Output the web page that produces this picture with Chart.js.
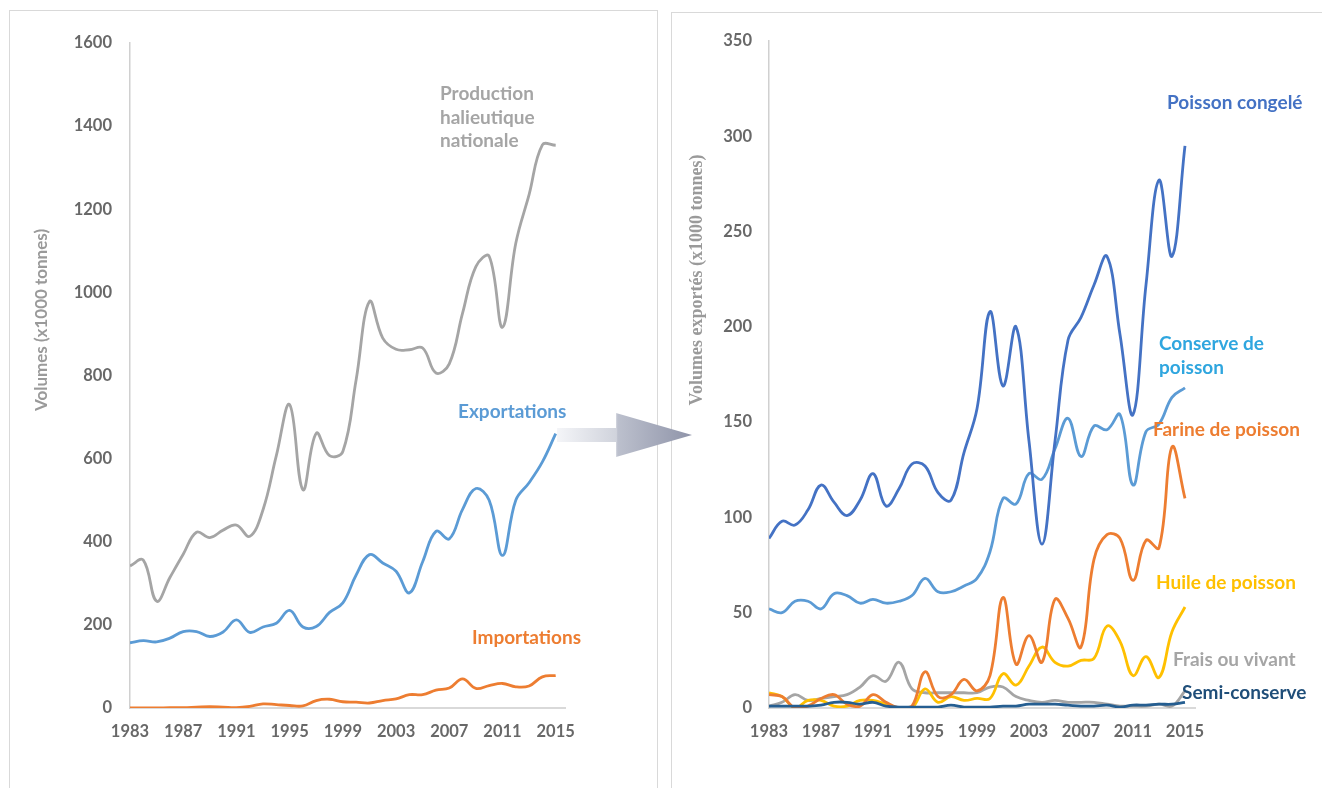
<!DOCTYPE html>
<html>
<head>
<meta charset="utf-8">
<script src="https://cdn.jsdelivr.net/npm/chart.js@4.4.1/dist/chart.umd.min.js"></script>
<style>
  html, body { margin: 0; padding: 0; background: #fff; }
  body { width: 1322px; height: 788px; position: relative; overflow: hidden; }
  .panel { position: absolute; border: 1px solid #d9d9d9; background: #fff; }
  #p1 { left: 9px; top: 10px; width: 647px; height: 800px; }
  #p2 { left: 671px; top: 12px; width: 700px; height: 800px; }
  canvas { position: absolute; top: 0; }
  #c1 { left: 0; }
  #c2 { left: 660px; }
  #arrow { position: absolute; left: 0; top: 0; }
</style>
</head>
<body>
<div class="panel" id="p1"></div>
<div class="panel" id="p2"></div>
<canvas id="c1" width="660" height="788"></canvas>
<canvas id="c2" width="662" height="788"></canvas>
<svg id="arrow" width="1322" height="788">
  <defs>
    <linearGradient id="ag" x1="557" y1="0" x2="692" y2="0" gradientUnits="userSpaceOnUse">
      <stop offset="0" stop-color="#f4f5f8"/>
      <stop offset="0.44" stop-color="#d0d3dc"/>
      <stop offset="0.45" stop-color="#bcc0cd"/>
      <stop offset="1" stop-color="#8f94a9"/>
    </linearGradient>
  </defs>
  <polygon points="557,428 616,428 616,413 692,435 616,457 616,442 557,442" fill="url(#ag)"/>
</svg>

<script>
// years on the x axis
const years = [1983, 1984, 1985, 1986, 1987, 1988, 1989, 1990, 1991, 1992, 1993,
  1994, 1995, 1996, 1997, 1998, 1999, 2000, 2001, 2002, 2003, 2004, 2005,
  2006, 2007, 2008, 2009, 2010, 2011, 2012, 2013, 2014, 2015];
const tickYears = [1983, 1987, 1991, 1995, 1999, 2003, 2007, 2011, 2015];

// left chart (x1000 tonnes)
const production = [342, 356, 257, 314, 370, 423, 410, 428, 440, 413, 477, 607, 730, 525, 661, 607, 617,
  790, 978, 890, 863, 862, 866, 806, 828, 950, 1062, 1087, 916, 1118, 1235, 1355, 1354];
const exportations = [157, 162, 159, 168, 184, 184, 172, 183, 212, 182, 195, 204, 235, 195, 196, 230, 253,
  320, 369, 349, 329, 277, 352, 425, 407, 478, 528, 500, 367, 500, 542, 592, 660];
const importations = [0, 0, 0, 1, 1, 2, 3, 2, 1, 4, 10, 8, 6, 5, 18, 21, 15,
  14, 12, 18, 22, 32, 32, 43, 48, 70, 47, 54, 59, 51, 53, 75, 78];

// right chart (x1000 tonnes exported)
const congele = [89, 98, 96, 104, 117, 108, 101, 109, 123, 106, 115, 128, 127, 113, 109, 134, 157,
  208, 169, 200, 140, 86, 140, 193, 205, 222, 237, 196, 154, 222, 277, 237, 295];
const conserve = [52, 50, 56, 56, 52, 60, 59, 55, 57, 55, 56, 59, 68, 61, 61, 64, 68,
  82, 110, 107, 123, 120, 136, 152, 132, 148, 146, 154, 117, 145, 149, 163, 168];
const farine = [7, 6, 0, 1, 5, 7, 2, 1, 7, 3, 0, 1, 19, 6, 7, 15, 9,
  17, 58, 23, 38, 24, 57, 47, 32, 78, 91, 89, 67, 88, 84, 137, 110];
const huile = [8, 6, 0, 4, 4, 1, 1, 4, 4, 2, 0, 0, 10, 3, 6, 4, 5,
  5, 18, 12, 22, 32, 24, 22, 25, 26, 43, 35, 17, 27, 16, 40, 53];
const frais = [1, 3, 7, 4, 5, 6, 7, 11, 17, 14, 24, 10, 8, 8, 8, 8, 8,
  11, 11, 6, 4, 3, 4, 3, 3, 3, 2, 1, 1, 1, 2, 1, 9];
const semi = [1, 1, 1, 1, 1.5, 3, 3, 2, 3, 1, 0.5, 0.5, 0.5, 0.5, 1.5, 0.5, 0.5,
  0.5, 1, 1, 2, 2, 2, 1.5, 1, 1, 1.5, 0.5, 1.5, 1.5, 2, 2, 3];

const toPoints = arr => arr.map((v, i) => ({ x: years[i], y: v }));

const tickFont = { family: 'Lato', weight: 'bold', size: 16.5 };
const tickColor = '#686868';

// draws series names and the rotated y title
function textPlugin(items, title) {
  return {
    id: 'texts',
    afterDraw(chart) {
      const ctx = chart.ctx;
      ctx.save();
      ctx.textBaseline = 'middle';
      ctx.textAlign = 'left';
      ctx.font = 'bold 19px Lato';
      items.forEach(it => {
        ctx.fillStyle = it.color;
        it.lines.forEach((t, i) => ctx.fillText(t, it.x, it.y + i * 23.5));
      });
      ctx.translate(title.x, title.y);
      ctx.rotate(-Math.PI / 2);
      ctx.textAlign = 'center';
      ctx.font = title.font;
      ctx.fillStyle = '#9a9a9a';
      ctx.fillText(title.text, 0, 0);
      ctx.restore();
    }
  };
}

function makeOptions(yMax, yStep, xMax, yWidth, padRight, padTop, yPad) {
  return {
    responsive: false,
    animation: false,
    layout: { padding: { left: 0, right: padRight, top: padTop, bottom: 30 } },
    plugins: { legend: { display: false }, tooltip: { enabled: false } },
    elements: {
      point: { radius: 0 },
      line: { borderWidth: 2.8, tension: 0.4, fill: false }
    },
    scales: {
      x: {
        type: 'linear', min: 1983, max: xMax,
        afterBuildTicks: axis => { axis.ticks = tickYears.map(v => ({ value: v })); },
        afterFit: s => { s.height = 50; },
        grid: { display: false, drawTicks: false },
        border: { color: '#d9d9d9', width: 2 },
        ticks: { font: tickFont, color: tickColor, padding: 14, maxRotation: 0, autoSkip: false,
          callback: v => String(v) }
      },
      y: {
        min: 0, max: yMax,
        afterFit: s => { s.width = yWidth; },
        grid: { display: false, drawTicks: false },
        border: { color: '#d0d0d0', width: 1.5 },
        ticks: { stepSize: yStep, font: tickFont, color: tickColor, padding: yPad,
          callback: v => String(v) }
      }
    }
  };
}

new Chart(document.getElementById('c1'), {
  type: 'line',
  data: {
    datasets: [
      { label: 'Importations', data: toPoints(importations), borderColor: '#ed7d31' },
      { label: 'Exportations', data: toPoints(exportations), borderColor: '#5b9bd5' },
      { label: 'Production halieutique nationale', data: toPoints(production), borderColor: '#a5a5a5' }
    ]
  },
  options: makeOptions(1600, 200, 2015.7, 130, 95, 43, 18),
  plugins: [textPlugin([
    { lines: ['Production', 'halieutique', 'nationale'], x: 440, y: 94, color: '#a5a5a5' },
    { lines: ['Exportations'], x: 458, y: 412, color: '#5b9bd5' },
    { lines: ['Importations'], x: 472, y: 638, color: '#ed7d31' }
  ], { text: 'Volumes (x1000 tonnes)', x: 42, y: 320, font: 'bold 17px Lato' })]
});

new Chart(document.getElementById('c2'), {
  type: 'line',
  data: {
    datasets: [
      { label: 'Semi-conserve', data: toPoints(semi), borderColor: '#255e91' },
      { label: 'Poisson congelé', data: toPoints(congele), borderColor: '#4472c4' },
      { label: 'Conserve de poisson', data: toPoints(conserve), borderColor: '#5b9bd5' },
      { label: 'Farine de poisson', data: toPoints(farine), borderColor: '#ed7d31' },
      { label: 'Huile de poisson', data: toPoints(huile), borderColor: '#ffc000' },
      { label: 'Frais ou vivant', data: toPoints(frais), borderColor: '#a5a5a5' }
    ]
  },
  options: makeOptions(350, 50, 2015.77, 109, 127, 41, 17),
  plugins: [textPlugin([
    { lines: ['Poisson congelé'], x: 507, y: 103, color: '#4472c4' },
    { lines: ['Conserve de', 'poisson'], x: 499, y: 344, color: '#2fa6df' },
    { lines: ['Farine de poisson'], x: 493, y: 430, color: '#ed7d31' },
    { lines: ['Huile de poisson'], x: 496, y: 583, color: '#ffc000' },
    { lines: ['Frais ou vivant'], x: 513, y: 660, color: '#a5a5a5' },
    { lines: ['Semi-conserve'], x: 522, y: 693, color: '#1f4e79' }
  ], { text: 'Volumes exportés (x1000 tonnes)', x: 37, y: 280, font: 'bold 18px "Liberation Serif"' })]
});
</script>
</body>
</html>
